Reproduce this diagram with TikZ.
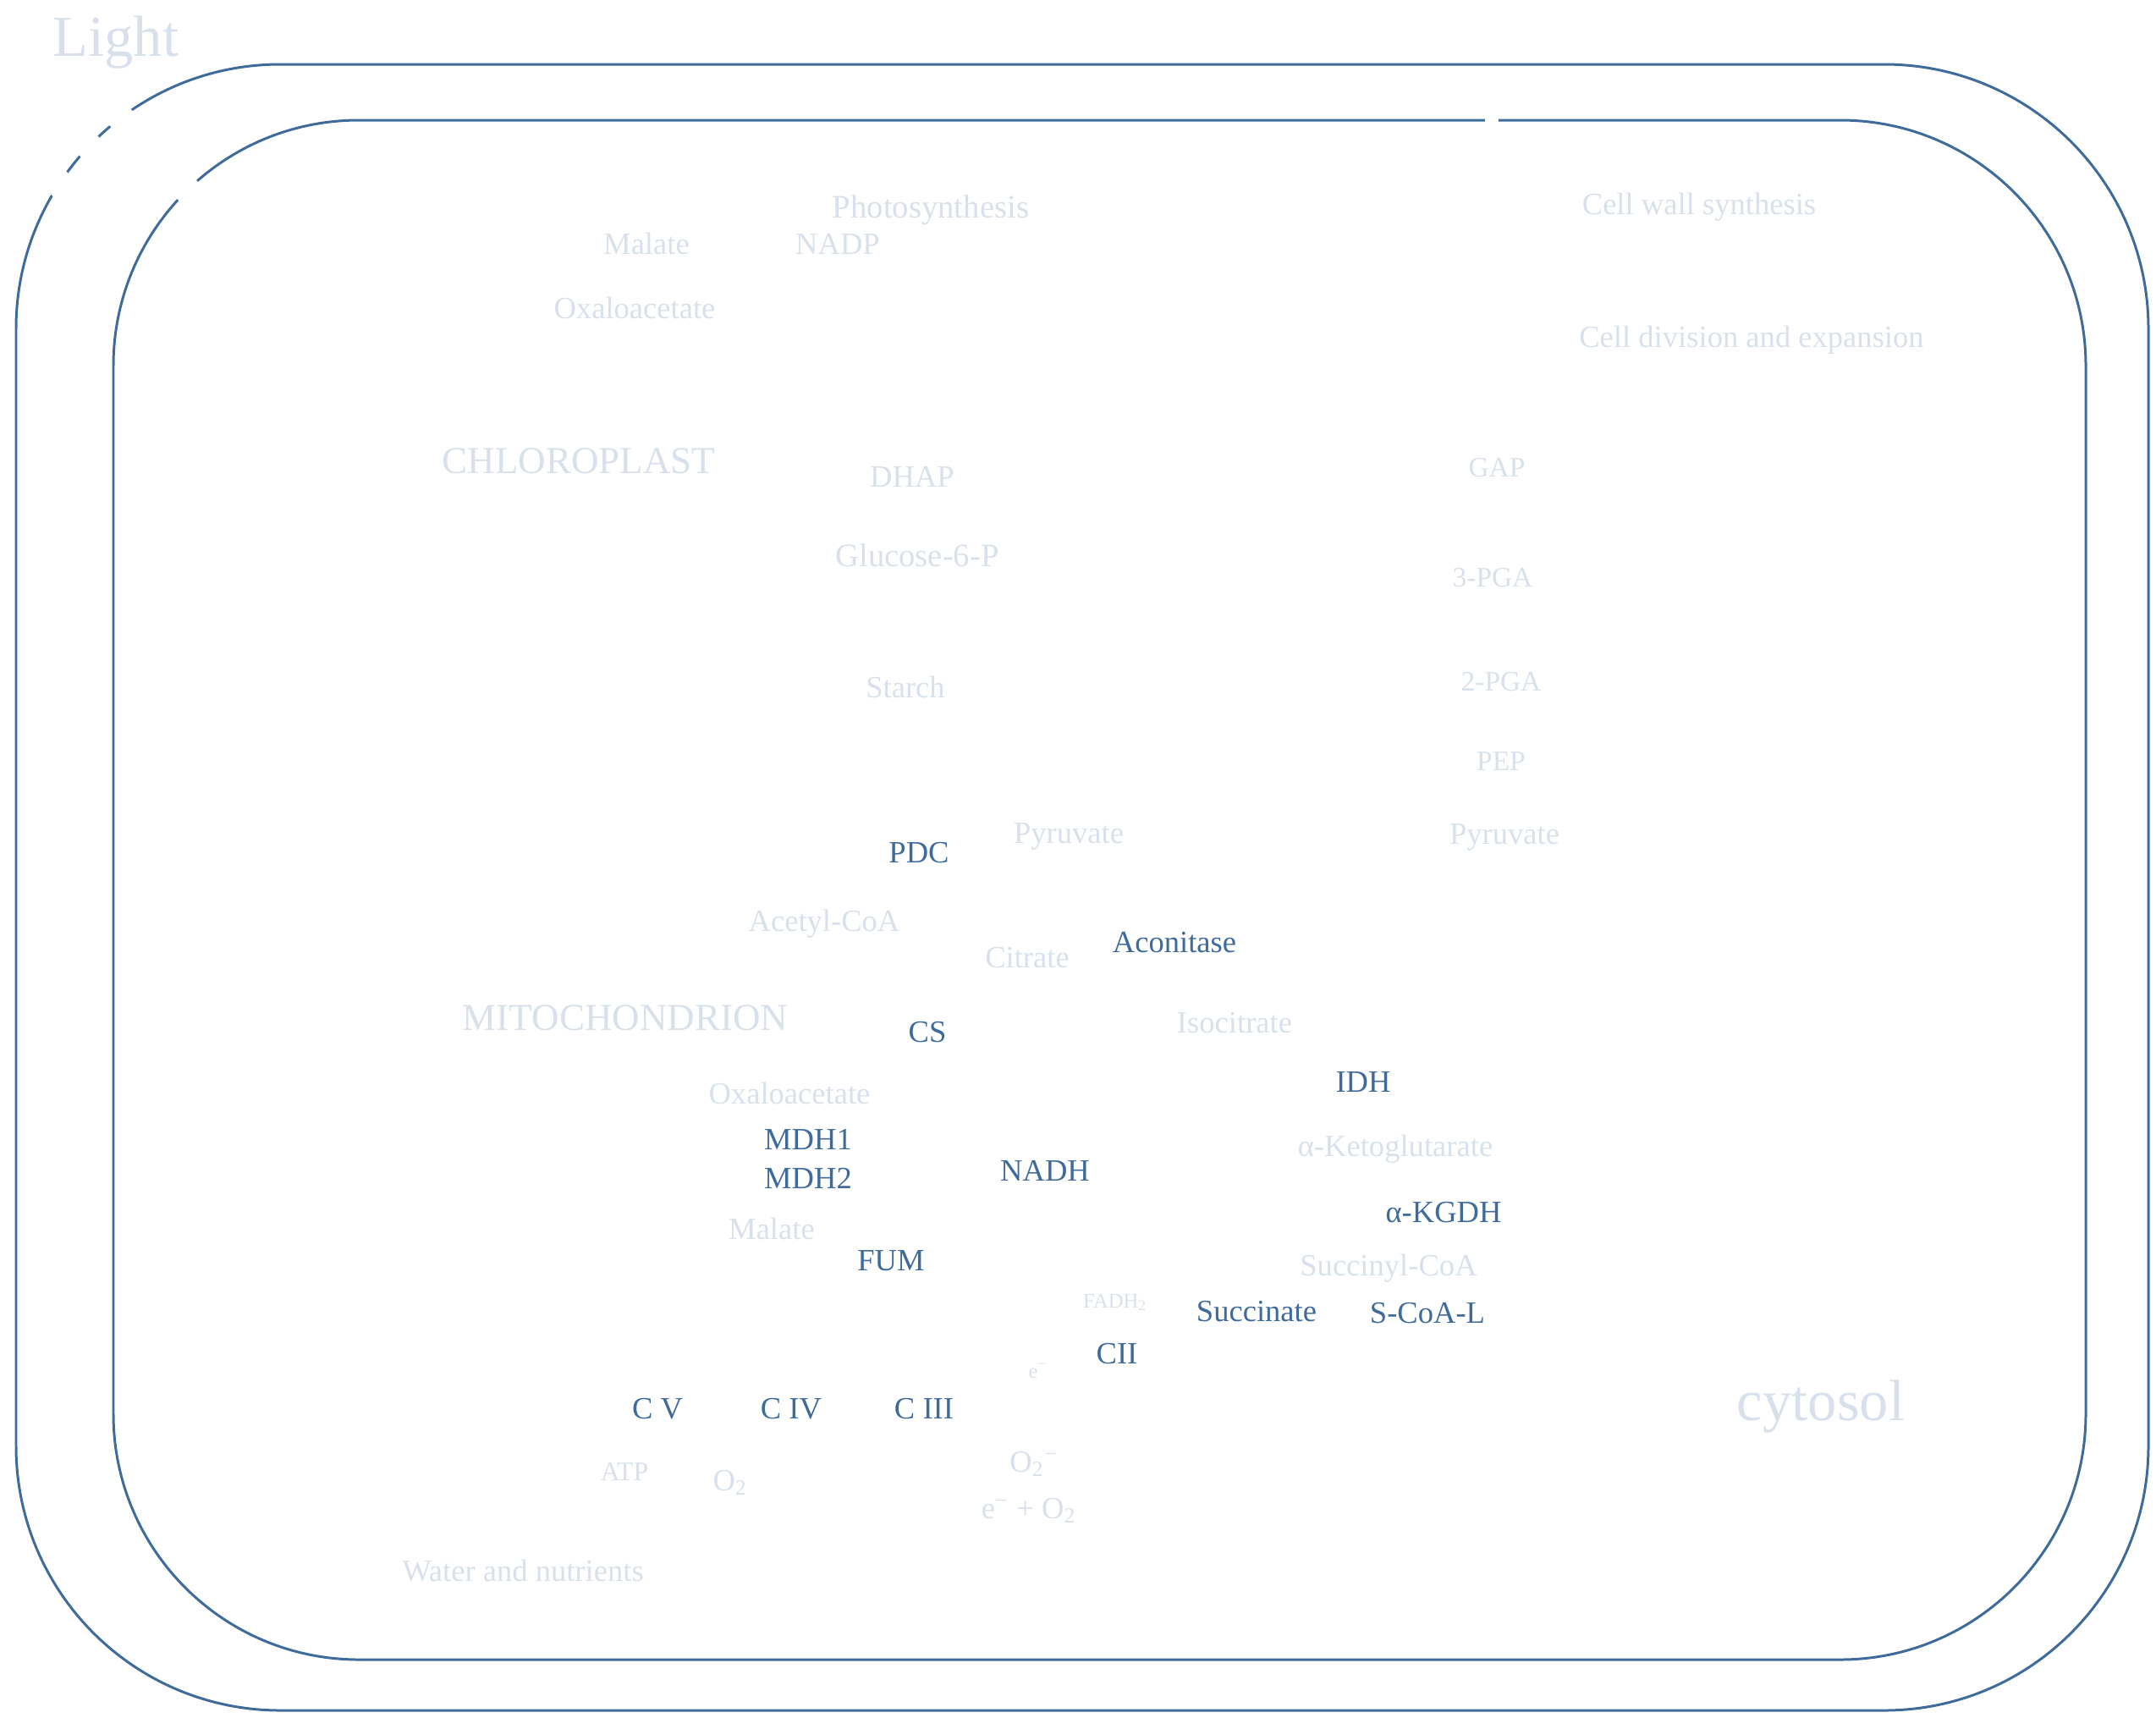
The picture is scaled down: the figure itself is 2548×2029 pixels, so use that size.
\documentclass[tikz,border=0pt]{standalone}
\usepackage{fontspec}
\setmainfont{Liberation Serif}
\usetikzlibrary{arrows.meta}
\definecolor{cellblue}{HTML}{3F6B9B}
\tikzset{
  membrane/.style={draw=cellblue, line width=0.85pt},
  metab/.style={text=cellblue!20, inner sep=0pt, font=\fontsize{10.4}{12}\selectfont},
  smallmetab/.style={metab, font=\fontsize{9.5}{11}\selectfont},
  tinymetab/.style={metab, font=\fontsize{7}{8}\selectfont},
  enzyme/.style={text=cellblue, inner sep=0pt, font=\fontsize{10.4}{12}\selectfont},
  compartment/.style={metab, font=\fontsize{12.8}{15}\selectfont},
  biglabel/.style={metab, font=\fontsize{19.5}{23}\selectfont},
  lightray/.style={draw=white, line width=9pt},
  hiddenflow/.style={draw=white, line width=4.8pt}
}

\begin{document}
\begin{tikzpicture}[x=0.01cm, y=-0.01cm]
    \useasboundingbox (0,0) rectangle (2548,2029);

    % cell wall and plasma membrane
    \draw[membrane, rounded corners=3.12cm] (19,76) rectangle (2539,2021);
    \draw[membrane, rounded corners=2.9cm] (134,142) rectangle (2465,1961);

    % light entering the cell
    \coordinate (ray1a) at (100,93);  \coordinate (ray1b) at (265,272);
    \coordinate (ray2a) at (45,107);  \coordinate (ray2b) at (165,238);
    \coordinate (ray3a) at (20,162);  \coordinate (ray3b) at (115,266);
    \draw[lightray] (ray1a) -- (ray1b);
    \draw[lightray] (ray2a) -- (ray2b);
    \draw[lightray] (ray3a) -- (ray3b);

    \node[biglabel] (light) at (137,50) {Light};
    \node[biglabel] (cytosol) at (2152,1662) {cytosol};

    % chloroplast
    \node[compartment] (chloro) at (684,545) {CHLOROPLAST};
    \node[metab, font=\fontsize{11}{13}\selectfont] (photo) at (1100,248) {Photosynthesis};
    \node[metab] (malateC) at (764,288) {Malate};
    \node[metab] (nadp) at (990,288) {NADP};
    \node[metab] (oaaC) at (750,364) {Oxaloacetate};
    \node[metab] (dhapC) at (1078,563) {DHAP};
    \node[metab, font=\fontsize{11}{13}\selectfont] (g6p) at (1084,656) {Glucose-6-P};
    \node[metab] (starch) at (1070,812) {Starch};

    % cytosol
    \node[metab] (cellwall) at (2008,245) {Cell wall synthesis};
    \node[metab] (celldiv) at (2070,402) {Cell division and expansion};
    \node[smallmetab] (gapY) at (1769,553) {GAP};
    \node[smallmetab] (pga3) at (1764,683) {3-PGA};
    \node[smallmetab] (pga2) at (1774,806) {2-PGA};
    \node[smallmetab] (pep) at (1774,900) {PEP};
    \node[metab] (pyrY) at (1778,989) {Pyruvate};
    \node[metab] (water) at (618,1856) {Water and nutrients};

    % mitochondrion, TCA cycle
    \node[compartment] (mito) at (739,1203) {MITOCHONDRION};
    \node[metab] (pyrM) at (1263,988) {Pyruvate};
    \node[enzyme] (pdc) at (1086,1008) {PDC};
    \node[metab] (acoa) at (974,1092) {Acetyl-CoA};
    \node[metab] (citrate) at (1214,1132) {Citrate};
    \node[enzyme] (aco) at (1388,1114) {Aconitase};
    \node[enzyme] (cs) at (1096,1220) {CS};
    \node[metab] (isocit) at (1459,1209) {Isocitrate};
    \node[enzyme] (idh) at (1611,1279) {IDH};
    \node[metab] (oaaM) at (933,1292) {Oxaloacetate};
    \node[enzyme] (mdh1) at (955,1346) {MDH1};
    \node[enzyme] (mdh2) at (955,1392) {MDH2};
    \node[enzyme] (nadh) at (1235,1383) {NADH};
    \node[metab] (akg) at (1649,1358) {α-Ketoglutarate};
    \node[enzyme] (akgdh) at (1706,1433) {α-KGDH};
    \node[metab] (malateM) at (912,1452) {Malate};
    \node[enzyme] (fum) at (1053,1490) {FUM};
    \node[metab] (succoa) at (1641,1499) {Succinyl-CoA};
    \node[tinymetab] (fadh) at (1318,1539) {FADH\textsubscript{2}};
    \node[enzyme] (succ) at (1485,1550) {Succinate};
    \node[enzyme] (scoal) at (1687,1552) {S-CoA-L};

    % electron transport chain
    \node[enzyme] (cii) at (1320,1600) {CII};
    \node[tinymetab] (eminus) at (1227,1620) {e\textsuperscript{−}};
    \node[enzyme] (cv) at (777,1665) {C V};
    \node[enzyme] (civ) at (935,1665) {C IV};
    \node[enzyme] (ciii) at (1092,1665) {C III};
    \node[metab, font=\fontsize{9}{11}\selectfont] (atp) at (738,1739) {ATP};
    \node[metab] (o2) at (863,1752) {O\textsubscript{2}};
    \node[metab] (superox) at (1222,1730) {O\textsubscript{2}\textsuperscript{−}};
    \node[metab] (eo2) at (1216,1785) {e\textsuperscript{−} + O\textsubscript{2}};

    % export through the plasma membrane
    \coordinate (topexit) at (1763,112);
    \draw[hiddenflow] (gapY.north -| topexit) -- (topexit);
\end{tikzpicture}
\end{document}
